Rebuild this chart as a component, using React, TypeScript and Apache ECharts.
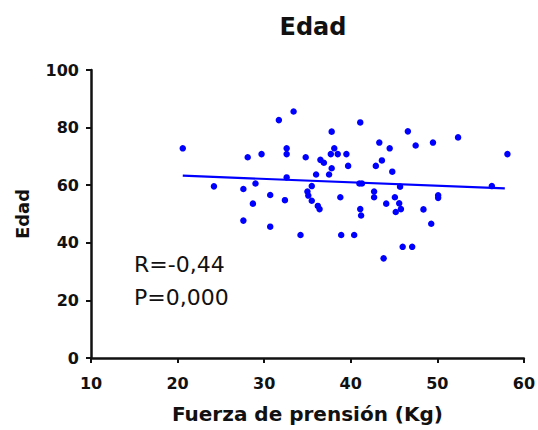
import React, { useEffect, useRef } from "react";
import * as echarts from "echarts";

const chartTitle = "Edad";
const xAxisName = "Fuerza de prensión (Kg)";
const yAxisName = "Edad";
const annotationLines = ["R=-0,44", "P=0,000"];

const strengthKg = [
  20.6, 24.2, 27.6, 27.6, 28.1, 29.7, 31.7, 33.4, 32.6, 32.6,
  29.0, 28.7, 30.7, 30.7, 32.6, 32.4, 34.2, 34.8, 37.8, 38.1,
  37.7, 38.5, 39.5, 36.5, 36.9, 37.8, 37.5, 36.0, 39.7, 35.5,
  35.0, 35.1, 35.5, 36.2, 36.4, 38.8, 38.9, 40.4, 41.1, 41.0,
  41.3, 41.1, 41.2, 43.3, 44.5, 43.6, 42.9, 42.7, 42.7, 44.1,
  43.8, 46.6, 47.5, 49.5, 52.4, 58.1, 44.8, 45.7, 56.3, 45.1,
  45.6, 45.2, 45.8, 50.1, 50.1, 48.4, 49.3, 46.0, 47.1,
];
const ageYears = [
  72.8, 59.6, 58.7, 47.7, 69.7, 70.8, 82.6, 85.6, 72.8, 70.8,
  60.6, 53.6, 56.6, 45.6, 62.7, 54.8, 42.7, 69.7, 78.6, 72.8,
  70.8, 70.8, 70.8, 68.8, 67.8, 65.9, 63.7, 63.7, 66.7, 59.7,
  57.8, 56.4, 54.6, 52.8, 51.7, 55.8, 42.7, 42.7, 81.8, 60.6,
  60.6, 51.7, 49.5, 74.8, 72.8, 68.6, 66.7, 57.8, 55.8, 53.6,
  34.6, 78.7, 73.8, 74.8, 76.6, 70.8, 64.7, 59.5, 59.7, 55.8,
  53.7, 50.7, 51.7, 56.5, 55.6, 51.6, 46.6, 38.6, 38.6,
];
const fitX = [20.6, 57.8];
const fitY = [63.3, 58.9];

const FONT = "DejaVu Sans";

export default function App() {
  const ref = useRef<HTMLDivElement>(null);
  useEffect(() => {
    if (!ref.current) return;
    const chart = echarts.init(ref.current, null, { renderer: "svg" });
    const points = strengthKg.map((x, i) => [x, ageYears[i]]);
    const fit = fitX.map((x, i) => [x, fitY[i]]);
    chart.setOption({
      animation: false,
      backgroundColor: "#ffffff",
      title: {
        text: chartTitle,
        left: 308,
        top: 10,
        textAlign: "center",
        textStyle: { fontFamily: FONT, fontWeight: "bold", fontSize: 24, color: "#111" },
      },
      grid: { left: 91, right: 13, top: 70, bottom: 72, containLabel: false },
      xAxis: {
        type: "value",
        min: 10,
        max: 60,
        interval: 10,
        name: xAxisName,
        nameLocation: "middle",
        nameGap: 46,
        nameTextStyle: { fontFamily: FONT, fontWeight: "bold", fontSize: 20, color: "#111" },
        axisLine: { show: true, onZero: false, lineStyle: { color: "#111", width: 2.5 } },
        axisTick: { show: true, length: 5, lineStyle: { color: "#111", width: 2 } },
        axisLabel: { fontFamily: FONT, fontWeight: "bold", fontSize: 16, color: "#111", margin: 17 },
        splitLine: { show: false },
      },
      yAxis: {
        type: "value",
        min: 0,
        max: 100,
        interval: 20,
        name: yAxisName,
        nameLocation: "middle",
        nameGap: 60,
        nameRotate: 90,
        nameTextStyle: { fontFamily: FONT, fontWeight: "bold", fontSize: 18, color: "#111" },
        axisLine: { show: true, onZero: false, lineStyle: { color: "#111", width: 2.5 } },
        axisTick: { show: true, length: 5, lineStyle: { color: "#111", width: 2 } },
        axisLabel: { fontFamily: FONT, fontWeight: "bold", fontSize: 16, color: "#111", margin: 12 },
        splitLine: { show: false },
      },
      graphic: annotationLines.map((t, i) => ({
        type: "text",
        left: 134,
        top: 253 + i * 33,
        style: { text: t, fontFamily: FONT, fontSize: 22, fill: "#111" },
      })),
      series: [
        {
          type: "scatter",
          data: points,
          symbol: "circle",
          symbolSize: 6.5,
          itemStyle: { color: "#0000ff", opacity: 1 },
          z: 3,
        },
        {
          type: "line",
          data: fit,
          showSymbol: false,
          symbol: "none",
          lineStyle: { color: "#0000ff", width: 2.2 },
          z: 2,
        },
      ],
    });
    return () => chart.dispose();
  }, []);
  return <div ref={ref} style={{ width: 538, height: 430, position: "absolute", left: 0, top: 0 }} />;
}
